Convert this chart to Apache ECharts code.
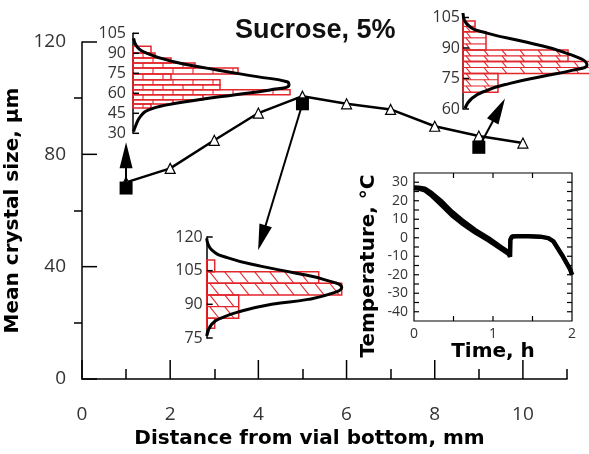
<!DOCTYPE html>
<html>
<head>
<meta charset="utf-8">
<script src="https://cdn.jsdelivr.net/npm/echarts@6/dist/echarts.min.js"></script>
<style>
  html, body { margin: 0; background: #fff; }
  #chart { width: 589px; height: 454px; }
</style>
</head>
<body>
<div id="chart"></div>
<script>
// mean crystal size along the vial
const distance = [1, 2, 3, 4, 5, 6, 7, 8, 9, 10];
const meanSize = [70, 75, 85, 94.7, 100.7, 98, 96, 90, 86.5, 84];
const xTickLabels = [0, 2, 4, 6, 8, 10];
const xMinorTicks = [1, 3, 5, 7, 9, 11];
const yTickLabels = [0, 40, 80, 120];

// sampled slices (black squares) and where their arrow heads sit
const sampledAt = [[1, 68], [5, 98], [9, 82.5]];
const arrowHeads = [[1, 79.7], [4.08, 50.3], [9.455, 95.8]];

// size distributions: [lower size, upper size, bar length]
const hist1Bins = [[90.2, 95.3, 18], [86.5, 90.2, 22], [82.7, 86.5, 38], [79, 82.7, 62],
  [74.5, 79, 105], [70.2, 74.5, 38], [66.5, 70.2, 87], [62.7, 66.5, 87], [59, 62.7, 157],
  [55.2, 59, 70], [52, 55.2, 40], [49, 52, 18]];
const hist2Bins = [[98, 103.3, 12], [89, 98, 23], [83.3, 89, 105], [77.5, 83.3, 127], [68.2, 77.5, 35]];
const hist3Bins = [[104.5, 109.7, 8], [99.4, 104.5, 112], [94.2, 99.4, 135], [83.8, 94.2, 32], [79.3, 83.8, 8]];
const hist1Ticks = [30, 45, 60, 75, 90, 105];
const hist2Ticks = [60, 75, 90, 105];
const hist3Ticks = [75, 90, 105, 120];

// fitted distribution curves: [length, size]
const hist1Curve = [[0.6, 101.3], [4, 95], [14, 90], [40.6, 83.7], [84, 77.5], [124, 72.5], [154, 68.7],
  [156, 66.3], [137, 62.5], [100.6, 58.8], [64, 55], [34, 51.3], [15.6, 47.5], [7.3, 42.5], [2.3, 35], [0.6, 31.2]];
const hist2Curve = [[0, 107.2], [5, 101.2], [24, 97.3], [64, 92.8], [104, 87.4], [124, 81.6], [110, 79.1],
  [80, 76.1], [47, 72.6], [24, 69.2], [9, 65.3], [2, 60.3]];
const hist3Curve = [[0, 119.4], [5, 114.3], [21.3, 110.7], [55, 106.9], [88.3, 104], [118.3, 100.9], [135, 97.5],
  [128.3, 95.3], [101.3, 92.2], [65, 90], [35, 87], [15, 84], [5, 81.1], [0, 75.9]];

// freezing profile (inset)
const timeH = [0, 0.06, 0.136, 0.22, 0.35, 0.475, 0.6, 0.77, 0.94, 1.11, 1.195, 1.216, 1.22, 1.24, 1.3, 1.45, 1.6, 1.7, 1.766, 1.873, 1.98, 2.0];
const tempProbe1 = [27.2, 27, 26.5, 24.2, 19.6, 14.2, 9.7, 4.3, -0.2, -5.3, -7.8, -10.2, -1.1, 0.7, 0.8, 0.8, 0.6, -0.2, -2, -9.3, -17.4, -20];
const tempProbe2 = [26.5, 26.3, 25.4, 22.6, 17.3, 12, 7.7, 2.7, -1.6, -6.5, -8.9, -10.2, -1.1, 0.7, 0.8, 0.8, 0.6, -0.2, -2, -9.3, -17.4, -20];
const tempTicks = [-40, -35, -30, -25, -20, -15, -10, -5, 0, 5, 10, 15, 20, 25, 30];
const timeTicks = [0.5, 1, 1.5];

const RED = '#e3262b';
const num = { fontFamily: 'Open Sans', color: '#333' };
const bold = { fontFamily: 'DejaVu Sans', fontWeight: 'bold', fontSize: 20, color: '#000' };
const black = { color: '#000', width: 1.5 };

function seg(x1, y1, x2, y2) {
  return { type: 'line', shape: { x1, y1, x2, y2 }, style: { stroke: RED, lineWidth: 1.1 } };
}

// red outlined bar with brick / diagonal hatch
function binRenderer(step, gap, kind) {
  return function (params, api) {
    const p0 = api.coord([0, api.value(1)]);
    const p1 = api.coord([api.value(2), api.value(0)]);
    const x = p0[0], y = p0[1], w = p1[0] - p0[0], h = p1[1] - p0[1];
    const kids = [];
    const rows = Math.max(1, Math.round(h / step));
    const rh = h / rows;
    for (let r = 0; r < rows; r++) {
      const ry = y + r * rh;
      if (r > 0) kids.push(seg(x, ry, x + w, ry));
      if (kind === 'brick') {
        for (let xx = x + ((params.dataIndex + r) % 2 ? gap / 2 : gap); xx < x + w - 2; xx += gap) {
          kids.push(seg(xx, ry, xx, ry + rh));
        }
      } else {
        for (let xx = x + 3; xx + rh * 0.8 < x + w; xx += gap) {
          kids.push(seg(xx, ry, xx + rh * 0.8, ry + rh));
        }
      }
    }
    kids.push({ type: 'rect', shape: { x, y, width: w, height: h }, style: { fill: 'none', stroke: RED, lineWidth: 1.5 } });
    return { type: 'group', children: kids };
  };
}

// tick marks placed through the axis scales (dx, dy = tick length in px)
function tickMarks(xi, yi, points, dx, dy, width) {
  return {
    type: 'custom', xAxisIndex: xi, yAxisIndex: yi, z: 8, silent: true,
    encode: { x: 0, y: 1 },
    data: points,
    renderItem: function (params, api) {
      const p = api.coord([api.value(0), api.value(1)]);
      return {
        type: 'line',
        shape: { x1: p[0], y1: p[1], x2: p[0] + dx, y2: p[1] + dy },
        style: { stroke: '#000', lineWidth: width }
      };
    }
  };
}

function histYAxis(grid, min, max, margin) {
  return {
    type: 'value', gridIndex: grid, min, max, interval: 15, position: 'left',
    axisLine: { show: true, onZero: false, lineStyle: black },
    axisTick: { show: false },
    axisLabel: Object.assign({ fontSize: 16, margin }, num),
    splitLine: { show: false }
  };
}

function histSeries(xi, yi, bins, curve, ticks, step, gap, kind) {
  return [{
    type: 'custom', xAxisIndex: xi, yAxisIndex: yi, z: 5,
    renderItem: binRenderer(step, gap, kind),
    encode: { x: 2, y: [0, 1] },
    data: bins
  }, {
    type: 'line', xAxisIndex: xi, yAxisIndex: yi, z: 6,
    data: curve, smooth: 0.5, symbol: 'none', clip: false,
    lineStyle: { color: '#000', width: 3 }
  }, tickMarks(xi, yi, ticks.map(v => [0, v]), 6, 0, 1.5)];
}

const chart = echarts.init(document.getElementById('chart'));
chart.setOption({
  animation: false,
  title: {
    text: 'Sucrose, 5%', left: 230, top: 12,
    textStyle: { fontFamily: 'Liberation Sans', fontWeight: 'bold', fontSize: 27, color: '#111' }
  },
  grid: [
    { left: 82, top: 42, width: 485, height: 337, outerBoundsMode: 'none' },
    { left: 133, top: 33.3, width: 200, height: 100, outerBoundsMode: 'none' },
    { left: 463, top: 17.5, width: 126, height: 91.5, outerBoundsMode: 'none' },
    { left: 206.7, top: 237, width: 150, height: 101, outerBoundsMode: 'none' },
    { left: 414, top: 173, width: 158, height: 148, outerBoundsMode: 'none', show: true, borderColor: '#000', borderWidth: 1.2 }
  ],
  xAxis: [
    {
      type: 'value', gridIndex: 0, min: 0, max: 11, position: 'bottom',
      axisLine: { show: true, onZero: false, lineStyle: black },
      axisTick: { show: false },
      axisLabel: Object.assign({ fontSize: 19, margin: 26, customValues: xTickLabels }, num),
      splitLine: { show: false },
      name: 'Distance from vial bottom, mm', nameLocation: 'middle', nameGap: 47,
      nameTextStyle: Object.assign({ padding: [0, 30, 0, 0] }, bold)
    },
    {
      type: 'value', gridIndex: 0, min: 0, max: 11, position: 'bottom',
      axisLine: { show: false, onZero: false }, axisLabel: { show: false }, splitLine: { show: false },
      axisTick: { show: true, inside: true, length: 10, customValues: xMinorTicks, lineStyle: black }
    },
    { type: 'value', gridIndex: 1, min: 0, max: 200, show: false },
    { type: 'value', gridIndex: 2, min: 0, max: 126, show: false },
    { type: 'value', gridIndex: 3, min: 0, max: 150, show: false },
    {
      type: 'value', gridIndex: 4, min: 0, max: 2, interval: 0.5, position: 'bottom',
      axisLine: { show: false, onZero: false },
      axisTick: { show: false },
      axisLabel: Object.assign({ fontSize: 14, margin: 6, formatter: v => (v % 1 === 0 ? v : '') }, num),
      splitLine: { show: false },
      name: 'Time, h', nameLocation: 'middle', nameGap: 18, nameTextStyle: bold
    }
  ],
  yAxis: [
    {
      type: 'value', gridIndex: 0, min: 0, max: 120, interval: 40, position: 'left',
      axisLine: { show: true, onZero: false, lineStyle: black },
      axisTick: { show: false },
      minorTick: { show: true, splitNumber: 2, length: 8, lineStyle: black },
      axisLabel: Object.assign({ fontSize: 19, margin: 16 }, num),
      splitLine: { show: false },
      name: 'Mean crystal size, \u03bcm', nameLocation: 'middle', nameGap: 44, nameTextStyle: bold
    },
    histYAxis(1, 30, 105, 7),
    histYAxis(2, 60, 105, 3),
    histYAxis(3, 75, 120, 4),
    {
      type: 'value', gridIndex: 4, min: -45, max: 35, interval: 5, position: 'left',
      axisLine: { show: false, onZero: false },
      axisTick: { show: false },
      axisLabel: Object.assign({ fontSize: 14, margin: 6, formatter: v => (v % 10 === 0 ? v : '') }, num),
      splitLine: { show: false }
    }
  ],
  graphic: [{
    type: 'text', x: 369, y: 266, rotation: Math.PI / 2,
    style: { text: 'Temperature, \u00b0C', font: 'bold 20px "DejaVu Sans"', fill: '#000', align: 'center', verticalAlign: 'middle' }
  }],
  series: [
    {
      type: 'line', xAxisIndex: 0, yAxisIndex: 0, z: 3,
      data: distance.map((d, i) => [d, meanSize[i]]),
      symbol: 'triangle', symbolSize: 10,
      lineStyle: { color: '#000', width: 2.5 },
      itemStyle: { color: '#fff', borderColor: '#000', borderWidth: 1.2 }
    },
    {
      type: 'scatter', xAxisIndex: 0, yAxisIndex: 0, z: 4,
      data: sampledAt, symbol: 'rect', symbolSize: 13,
      itemStyle: { color: '#000', opacity: 1 },
      markLine: {
        silent: true, symbol: ['none', 'triangle'], symbolSize: [13, 26],
        label: { show: false },
        lineStyle: { color: '#000', width: 2, type: 'solid', opacity: 1 },
        itemStyle: { color: '#000', opacity: 1 },
        data: sampledAt.map((p, i) => [{ coord: p }, { coord: arrowHeads[i] }])
      }
    },
    // major ticks of the main axes
    tickMarks(0, 0, yTickLabels.map(v => [0, v]), 15, 0, 1.5),
    tickMarks(0, 0, xTickLabels.map(v => [v, 0]), 0, -19, 1.5),
    ...histSeries(2, 1, hist1Bins, hist1Curve, hist1Ticks, 5, 20, 'brick'),
    ...histSeries(3, 2, hist2Bins, hist2Curve, hist2Ticks, 5.8, 18, 'diag'),
    ...histSeries(4, 3, hist3Bins, hist3Curve, hist3Ticks, 11.7, 15, 'diag'),
    {
      type: 'line', xAxisIndex: 5, yAxisIndex: 4, z: 5,
      data: timeH.map((t, i) => [t, tempProbe2[i]]), symbol: 'none',
      lineStyle: { color: '#000', width: 3.5 }
    },
    {
      type: 'line', xAxisIndex: 5, yAxisIndex: 4, z: 5,
      data: timeH.map((t, i) => [t, tempProbe1[i]]), symbol: 'none',
      lineStyle: { color: '#000', width: 4.5 }
    },
    // inset frame ticks on all four sides
    tickMarks(5, 4, tempTicks.map(v => [0, v]), 5, 0, 1.2),
    tickMarks(5, 4, tempTicks.map(v => [2, v]), -5, 0, 1.2),
    tickMarks(5, 4, timeTicks.map(t => [t, -45]), 0, -5, 1.2),
    tickMarks(5, 4, timeTicks.map(t => [t, 35]), 0, 5, 1.2)
  ]
});
</script>
</body>
</html>
